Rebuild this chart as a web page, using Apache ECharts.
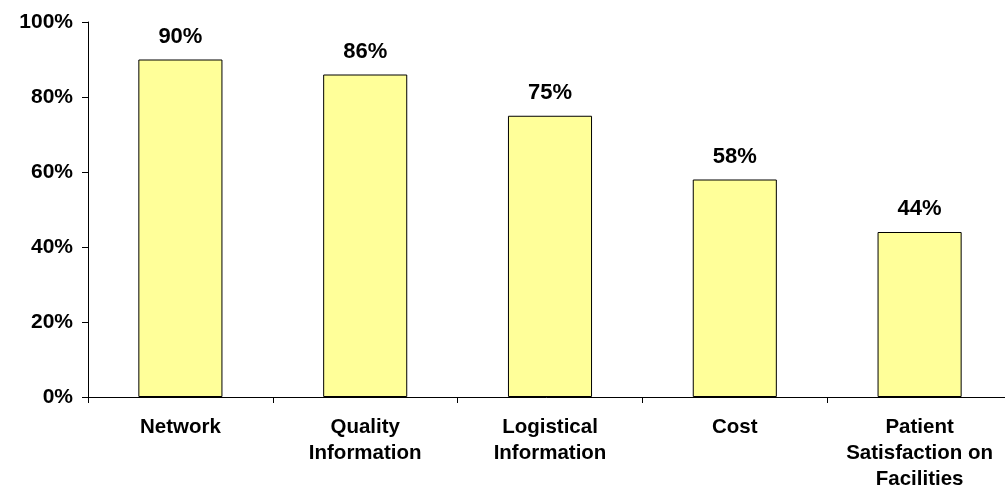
<!DOCTYPE html>
<html>
<head>
<meta charset="utf-8">
<script src="https://cdn.jsdelivr.net/npm/echarts@6/dist/echarts.min.js"></script>
<style>
  html, body { margin: 0; padding: 0; background: #fff; }
  #chart { width: 1005px; height: 487px; }
</style>
</head>
<body>
<div id="chart"></div>
<script>
// Share of respondents per factor
const categories = ['Network', 'Quality\nInformation', 'Logistical\nInformation', 'Cost', 'Patient\nSatisfaction on\nFacilities'];
const values = [90, 86, 75, 58, 44];
const yTicks = [0, 20, 40, 60, 80, 100];

const chart = echarts.init(document.getElementById('chart'));
const font = 'Liberation Sans, Arial, sans-serif';

chart.setOption({
  animation: false,
  backgroundColor: '#ffffff',
  grid: { left: 88, right: -7, top: 22, bottom: 90, containLabel: false, outerBoundsMode: 'none' },
  xAxis: {
    type: 'category',
    data: categories,
    axisLine: { lineStyle: { color: '#000', width: 1 } },
    axisTick: { show: true, alignWithLabel: false, length: 6, lineStyle: { color: '#000' } },
    axisLabel: {
      color: '#000', fontFamily: font, fontWeight: 'bold', fontSize: 20.5,
      lineHeight: 26, margin: 17, interval: 0
    },
    splitLine: { show: false }
  },
  yAxis: {
    type: 'value',
    min: yTicks[0],
    max: yTicks[yTicks.length - 1],
    interval: 20,
    axisLine: { show: true, lineStyle: { color: '#000', width: 1 } },
    axisTick: { show: true, length: 6, lineStyle: { color: '#000' } },
    axisLabel: {
      color: '#000', fontFamily: font, fontWeight: 'bold', fontSize: 21, margin: 15,
      formatter: v => v + '%'
    },
    splitLine: { show: false }
  },
  series: [{
    type: 'bar',
    data: values,
    barWidth: '45.5%',
    itemStyle: { color: '#FFFF99', borderColor: '#000', borderWidth: 1 },
    label: {
      show: true, position: 'top', distance: 12,
      color: '#000', fontFamily: font, fontWeight: 'bold', fontSize: 22,
      formatter: p => p.value + '%'
    }
  }]
});
</script>
</body>
</html>
